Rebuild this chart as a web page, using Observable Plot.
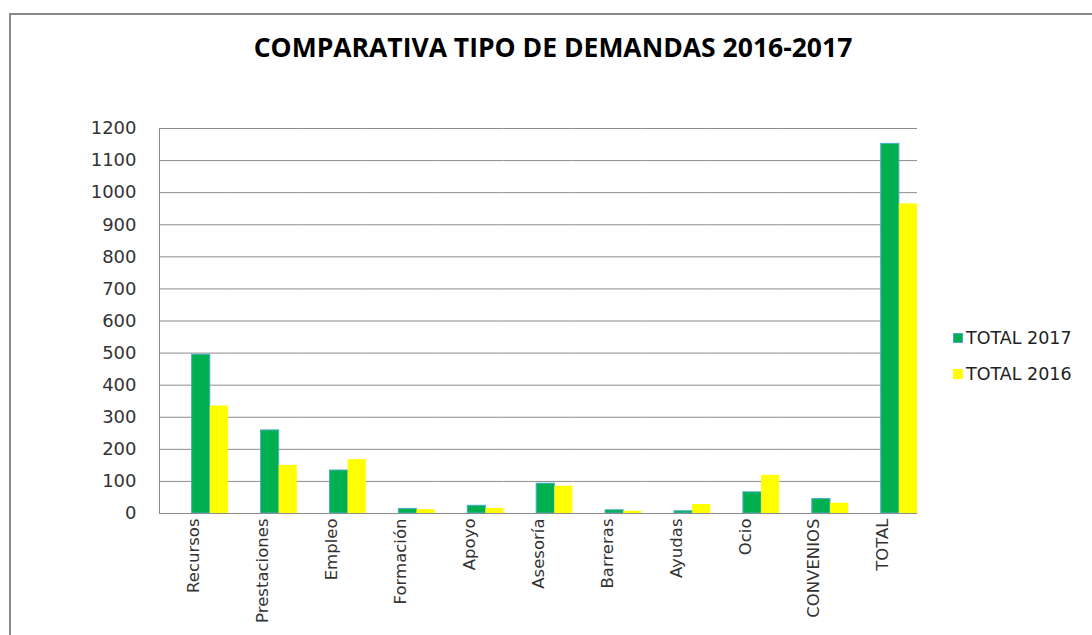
<!DOCTYPE html>
<html>
<head>
<meta charset="utf-8">
<script src="https://cdn.jsdelivr.net/npm/d3@7"></script>
<script src="https://cdn.jsdelivr.net/npm/@observablehq/plot@0.6"></script>
<style>
  html, body { margin: 0; padding: 0; background: #fff; }
  #wrap { position: relative; width: 1092px; height: 635px; overflow: hidden; background: #fff; }
  #border { position: absolute; left: 9px; top: 13px; right: -10px; bottom: -10px;
            border-top: 2px solid #8a8a8a; border-left: 2px solid #8a8a8a; }
  #chart { position: absolute; left: 0; top: 0; }
  #title { position: absolute; left: 553px; top: 33px; transform: translateX(-50%);
           font-family: "Open Sans", sans-serif; font-weight: bold; font-size: 26.5px;
           line-height: 28px; white-space: nowrap; color: #000; }
  #legend { position: absolute; left: 953px; top: 327px; font-family: "DejaVu Sans", sans-serif;
            font-size: 17.5px; color: #222; }
  .item { height: 36px; display: flex; align-items: flex-start; }
  .sw { width: 10px; height: 10px; box-sizing: border-box; margin-top: 6px; margin-right: 3px; }
  .lab { line-height: 22px; white-space: nowrap; }
</style>
</head>
<body>
<div id="wrap">
  <div id="border"></div>
  <div id="chart"></div>
  <div id="title"></div>
  <div id="legend"></div>
</div>
<script>
const titleText = "COMPARATIVA TIPO DE DEMANDAS 2016-2017";
const categories = ["Recursos", "Prestaciones", "Empleo", "Formación", "Apoyo", "Asesoría", "Barreras", "Ayudas", "Ocio", "CONVENIOS", "TOTAL"];
const total2017 = [495, 259, 134, 14, 24, 93, 10, 7, 66, 45, 1152];
const total2016 = [335, 150, 168, 12, 16, 85, 7, 28, 119, 32, 965];
const series = ["TOTAL 2017", "TOTAL 2016"];
const seriesFill = ["#00B050", "#FFFF00"];
const seriesStroke = ["#4BACC6", "none"];
const yTicks = [0, 100, 200, 300, 400, 500, 600, 700, 800, 900, 1000, 1100, 1200];

const rows2017 = categories.map((c, i) => ({category: c, series: series[0], value: total2017[i]}));
const rows2016 = categories.map((c, i) => ({category: c, series: series[1], value: total2016[i]}));

const gridColor = "#8c8c8c";

const chart = Plot.plot({
  width: 1092,
  height: 635,
  marginLeft: 159,
  marginRight: 175,
  marginTop: 128,
  marginBottom: 122,
  style: {fontFamily: "DejaVu Sans, sans-serif", fontSize: "16.5px", color: "#333", background: "transparent"},
  fx: {domain: categories, padding: 0, round: false, axis: "bottom", tickRotate: -90, tickSize: 0, tickPadding: 5, label: null},
  x: {domain: series, paddingInner: 0, paddingOuter: 0.9, align: 1, round: false, axis: null},
  y: {domain: [0, 1200], ticks: yTicks, tickSize: 0, tickPadding: 23, label: null, tickFormat: d => String(d)},
  marks: [
    Plot.ruleY(yTicks, {stroke: gridColor}),
    Plot.barY(rows2017, {fx: "category", x: "series", y: "value", fill: seriesFill[0], stroke: seriesStroke[0], strokeWidth: 1}),
    Plot.barY(rows2016, {fx: "category", x: "series", y: "value", fill: seriesFill[1]}),
    Plot.ruleY([0], {stroke: gridColor}),
    Plot.frame({anchor: "left", stroke: gridColor, fx: categories[0]})
  ]
});
d3.select(chart).selectAll("g[aria-label='y-axis tick label'] text, g[aria-label='y-axis tick label']").style("font-size", "18px");
document.getElementById("chart").appendChild(chart);
document.getElementById("title").textContent = titleText;

const legend = document.getElementById("legend");
series.forEach((s, i) => {
  const item = document.createElement("div");
  item.className = "item";
  const sw = document.createElement("div");
  sw.className = "sw";
  sw.style.background = seriesFill[i];
  if (seriesStroke[i] !== "none") sw.style.border = "1px solid " + seriesStroke[i];
  const lab = document.createElement("div");
  lab.className = "lab";
  lab.textContent = s;
  item.appendChild(sw);
  item.appendChild(lab);
  legend.appendChild(item);
});
</script>
</body>
</html>
